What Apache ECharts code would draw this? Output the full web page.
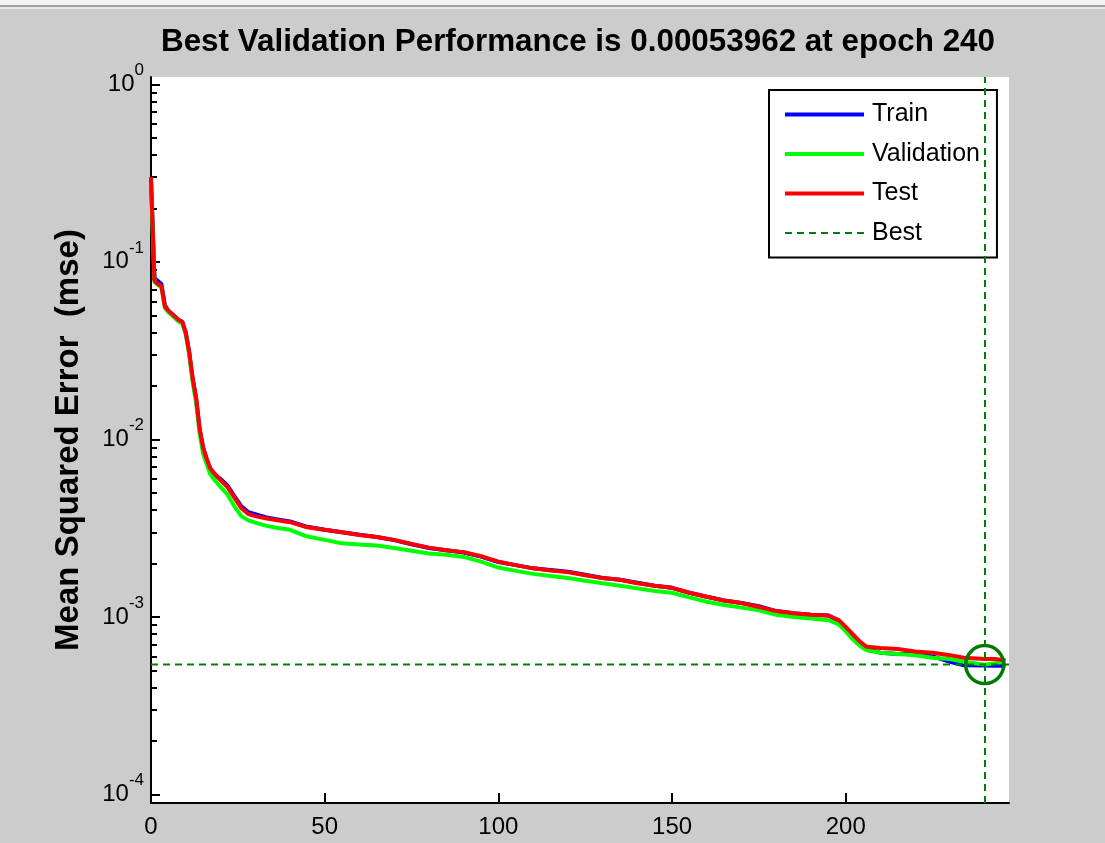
<!DOCTYPE html>
<html>
<head>
<meta charset="utf-8">
<script src="https://cdn.jsdelivr.net/npm/echarts@6/dist/echarts.min.js"></script>
<style>
  html, body { margin: 0; padding: 0; background: #cccccc; }
  #chart { width: 1105px; height: 843px; }
</style>
</head>
<body>
<div id="chart"></div>
<script>
const titleText = 'Best Validation Performance is 0.00053962 at epoch 240';
const yAxisName = 'Mean Squared Error  (mse)';
const seriesNames = ['Train', 'Validation', 'Test', 'Best'];

const epochs = [0,1,2,3,4,5,6,7,8,9,10,11,12,13,14,15,16,17,18,19,20,22,24,26,28,30,33,36,40,45,50,55,60,65,70,75,80,85,90,95,100,105,110,115,120,125,130,135,140,145,150,155,160,165,170,175,180,185,190,195,198,200,202,204,206,210,215,220,225,230,234,240,243,246];

const trainMse = [0.29,0.081,0.078,0.075,0.057,0.053,0.051,0.049,0.047,0.046,0.040,0.031,0.022,0.017,0.0114,0.0090,0.0078,0.0069,0.0065,0.0062,0.0060,0.0055,0.0048,0.0042,0.0039,0.0038,0.00365,0.00355,0.00345,0.00322,0.00310,0.00300,0.00291,0.00282,0.00271,0.00257,0.00245,0.00238,0.00231,0.00219,0.00204,0.00196,0.00188,0.00184,0.00180,0.00173,0.00166,0.00162,0.00156,0.00150,0.00146,0.00137,0.00130,0.00124,0.00120,0.00115,0.00108,0.00105,0.00103,0.00102,0.00095,0.00087,0.00079,0.00072,0.00066,0.00063,0.00062,0.00062,0.00060,0.00056,0.000535,0.000533,0.000532,0.000532];

const validationMse = [0.28,0.077,0.074,0.072,0.055,0.052,0.050,0.048,0.046,0.045,0.039,0.030,0.021,0.016,0.0108,0.0083,0.0073,0.0064,0.0060,0.0057,0.0054,0.0049,0.0042,0.0037,0.0035,0.0034,0.00327,0.00318,0.00310,0.00284,0.00272,0.00260,0.00256,0.00253,0.00245,0.00236,0.00228,0.00224,0.00218,0.00205,0.00190,0.00182,0.00175,0.00170,0.00166,0.00160,0.00155,0.00150,0.00145,0.00140,0.00137,0.00129,0.00122,0.00117,0.00113,0.00109,0.00103,0.00100,0.00098,0.00096,0.00091,0.00083,0.00075,0.00069,0.00065,0.00063,0.00062,0.00061,0.00059,0.00058,0.00056,0.00053962,0.00055,0.00056];

const testMse = [0.30,0.078,0.075,0.073,0.056,0.053,0.051,0.049,0.047,0.046,0.040,0.031,0.022,0.017,0.0115,0.0090,0.0078,0.0069,0.0065,0.0062,0.0059,0.0054,0.0047,0.0041,0.0038,0.0037,0.0036,0.00352,0.00342,0.0032,0.0031,0.00300,0.00290,0.00282,0.00272,0.00258,0.00246,0.00238,0.00232,0.00220,0.00205,0.00196,0.00188,0.00183,0.00179,0.00172,0.00166,0.00162,0.00155,0.00150,0.00146,0.00137,0.00130,0.00124,0.00120,0.00114,0.00108,0.00105,0.00103,0.00102,0.00096,0.00088,0.00080,0.00073,0.00068,0.00067,0.00066,0.00064,0.00063,0.00061,0.00059,0.00058,0.00058,0.00057];

const bestEpoch = 240;
const bestPerf = 0.00053962;

const xTicks = [0, 50, 100, 150, 200];
const yMajorTicks = [0.0001, 0.001, 0.01, 0.1, 1];
const yMinorTicks = [0.0002,0.0003,0.0004,0.0005,0.0006,0.0007,0.0008,0.0009,
                     0.002,0.003,0.004,0.005,0.006,0.007,0.008,0.009,
                     0.02,0.03,0.04,0.05,0.06,0.07,0.08,0.09,
                     0.2,0.3,0.4,0.5,0.6,0.7,0.8,0.9];
const xMin = 0, xMax = 247;
const yMin = 8.97e-5, yMax = 1.099;

const FONT = 'Liberation Sans, Arial, sans-serif';
const pairs = (ys) => epochs.map((e, i) => [e, ys[i]]);

const chart = echarts.init(document.getElementById('chart'), null, { renderer: 'canvas' });

chart.setOption({
  animation: false,
  backgroundColor: '#cccccc',
  textStyle: { fontFamily: FONT },
  graphic: [
    { type: 'rect', shape: { x: 0, y: 0, width: 1105, height: 5 }, style: { fill: '#f4f4f4' }, silent: true },
    { type: 'rect', shape: { x: 0, y: 5, width: 1105, height: 2 }, style: { fill: '#a0a0a0' }, silent: true },
    { type: 'rect', shape: { x: 0, y: 7, width: 1105, height: 2 }, style: { fill: '#e6e6e6' }, silent: true }
  ],
  title: {
    text: titleText,
    left: 573,
    top: 22,
    textAlign: 'center',
    textStyle: { fontSize: 31.4, fontWeight: 'bold', color: '#000', fontFamily: FONT }
  },
  legend: {
    data: [
      { name: 'Train', itemStyle: { opacity: 0 }, lineStyle: { width: 4 } },
      { name: 'Validation', itemStyle: { opacity: 0 }, lineStyle: { width: 4 } },
      { name: 'Test', itemStyle: { opacity: 0 }, lineStyle: { width: 4 } },
      { name: 'Best', itemStyle: { opacity: 0 }, lineStyle: { width: 2 } }
    ],
    orient: 'vertical',
    left: 769,
    top: 90,
    itemWidth: 79,
    itemHeight: 14,
    itemGap: 14.5,
    padding: [12, 17, 12, 14],
    backgroundColor: '#ffffff',
    borderColor: '#000000',
    borderWidth: 2,
    selectedMode: false,
    itemStyle: { opacity: 0 },
    textStyle: { fontSize: 25, lineHeight: 25, color: '#000', fontFamily: FONT, padding: [0, 0, 0, 3] }
  },
  grid: {
    left: 151, right: 96, top: 77, bottom: 40,
    show: true, backgroundColor: '#ffffff', borderWidth: 0,
    containLabel: false
  },
  xAxis: {
    type: 'value',
    min: xMin, max: xMax,
    axisLine: { show: true, onZero: false, lineStyle: { color: '#000', width: 2 } },
    axisTick: { show: true, inside: true, length: 10, customValues: xTicks, lineStyle: { color: '#000', width: 2 } },
    axisLabel: { show: true, customValues: xTicks, margin: 12, fontSize: 24, color: '#000', fontFamily: FONT },
    splitLine: { show: false }
  },
  yAxis: [
    {
      type: 'log',
      logBase: 10,
      min: yMin, max: yMax,
      name: yAxisName,
      nameLocation: 'middle',
      nameGap: 66,
      nameTextStyle: { fontSize: 33, fontWeight: 'bold', color: '#000', fontFamily: FONT },
      axisLine: { show: true, onZero: false, lineStyle: { color: '#000', width: 2 } },
      axisTick: { show: true, inside: true, length: 9, customValues: yMajorTicks, lineStyle: { color: '#000', width: 2 } },
      axisLabel: {
        show: true,
        customValues: yMajorTicks,
        margin: 7,
        formatter: function (v) {
          const e = Math.round(Math.log10(v));
          return '{b|10}{e|' + e + '}';
        },
        rich: {
          b: { fontSize: 24, lineHeight: 24, color: '#000', fontFamily: FONT },
          e: { fontSize: 17, lineHeight: 17, color: '#000', fontFamily: FONT, padding: [0, 0, 28, 0] }
        }
      },
      splitLine: { show: false }
    },
    {
      type: 'log',
      logBase: 10,
      min: yMin, max: yMax,
      position: 'left',
      axisLine: { show: false },
      axisTick: { show: true, inside: true, length: 6, customValues: yMinorTicks, lineStyle: { color: '#000', width: 2 } },
      axisLabel: { show: false },
      splitLine: { show: false }
    }
  ],
  series: [
    {
      name: 'Train', type: 'line', data: pairs(trainMse),
      symbol: 'none', color: '#0000ff', lineStyle: { color: '#0000ff', width: 4 }, z: 2
    },
    {
      name: 'Validation', type: 'line', data: pairs(validationMse),
      symbol: 'none', color: '#00ff00', lineStyle: { color: '#00ff00', width: 4 }, z: 3
    },
    {
      name: 'Test', type: 'line', data: pairs(testMse),
      symbol: 'none', color: '#ff0000', lineStyle: { color: '#ff0000', width: 4 }, z: 4
    },
    {
      name: 'Best', type: 'line', data: [[xMin, bestPerf], [xMax, bestPerf]],
      symbol: 'none', color: '#008000',
      lineStyle: { color: '#008000', width: 2, type: [7, 5] }, z: 5,
      markLine: {
        silent: true, symbol: 'none', label: { show: false },
        lineStyle: { color: '#008000', width: 2, type: [7, 5] },
        data: [{ xAxis: bestEpoch }]
      }
    },
    {
      name: 'BestPoint', type: 'scatter', data: [[bestEpoch, bestPerf]],
      symbol: 'circle', symbolSize: 38,
      itemStyle: { color: 'rgba(0,0,0,0)', borderColor: '#007a00', borderWidth: 3.5, opacity: 1 }, z: 6,
      silent: true
    }
  ]
});
</script>
</body>
</html>
